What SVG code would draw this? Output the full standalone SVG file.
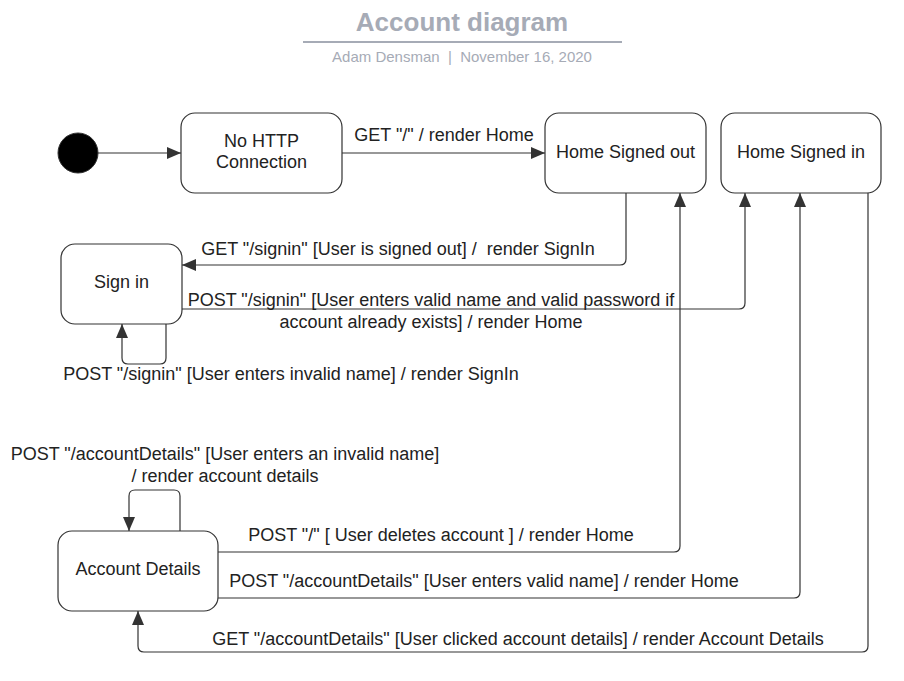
<svg xmlns="http://www.w3.org/2000/svg" width="904" height="681" viewBox="0 0 904 681">
<defs>
<marker id="arr" viewBox="0 0 14 12" refX="14" refY="6" markerWidth="14" markerHeight="12" markerUnits="userSpaceOnUse" orient="auto">
<path d="M0,0 L14,6 L0,12 Z" fill="#333"/>
</marker>
<style>
.node rect{fill:#fff;stroke:#333;stroke-width:1.2}
.t{font-family:"Liberation Sans",Arial,sans-serif;font-size:18px;fill:#222;text-anchor:middle;white-space:pre}
.c path{fill:none;stroke:#333;stroke-width:1.2;marker-end:url(#arr)}
.title{font-family:"Liberation Sans",Arial,sans-serif;font-size:26px;font-weight:bold;fill:#a6abb6;text-anchor:middle}
.sub{font-family:"Liberation Sans",Arial,sans-serif;font-size:15px;fill:#a6abb6;text-anchor:middle;white-space:pre}
</style>
</defs>
<rect width="904" height="681" fill="#fff"/>
<text class="title" x="462" y="31">Account diagram</text>
<line x1="303" y1="42" x2="622" y2="42" stroke="#a6abb6" stroke-width="2"/>
<text class="sub" x="462" y="62" xml:space="preserve">Adam Densman  |  November 16, 2020</text>

<g id="start"><circle cx="78" cy="153" r="20" fill="#000" stroke="#333"/></g>
<g id="noHttp" class="node"><rect x="181" y="113" width="161" height="80" rx="14"/><text class="t" x="261.5" y="147">No HTTP</text><text class="t" x="261.5" y="168">Connection</text></g>
<g id="homeOut" class="node"><rect x="545" y="113" width="161" height="80" rx="14"/><text class="t" x="625.5" y="158">Home Signed out</text></g>
<g id="homeIn" class="node"><rect x="721" y="113" width="160" height="80" rx="14"/><text class="t" x="801" y="158">Home Signed in</text></g>
<g id="signIn" class="node"><rect x="61" y="244" width="121" height="80" rx="14"/><text class="t" x="121.5" y="288">Sign in</text></g>
<g id="accountDetails" class="node"><rect x="58" y="531" width="160" height="80" rx="14"/><text class="t" x="138" y="575">Account Details</text></g>

<g id="connectors" class="c">
<path d="M98,153 H181"/>
<path d="M342,153 H545"/>
<path d="M626,193 V259 Q626,265 620,265 H182"/>
<path d="M182,309 H739 Q745,309 745,303 V193"/>
<path d="M166,324 V358 Q166,364 160,364 H128 Q122,364 122,358 V324"/>
<path d="M180,531 V496 Q180,490 174,490 H135 Q129,490 129,496 V531"/>
<path d="M218,552 H674 Q680,552 680,546 V193"/>
<path d="M218,598 H794 Q800,598 800,592 V193"/>
<path d="M868,193 V646 Q868,652 862,652 H144 Q138,652 138,646 V611"/>
</g>
<g id="labels">
<text class="t" x="444" y="141">GET "/" / render Home</text>
<text class="t" x="398" y="255" xml:space="preserve">GET "/signin" [User is signed out] /  render SignIn</text>
<text class="t" x="431" y="306">POST "/signin" [User enters valid name and valid password if</text>
<text class="t" x="431" y="328">account already exists] / render Home</text>
<text class="t" x="291" y="380">POST "/signin" [User enters invalid name] / render SignIn</text>
<text class="t" x="225" y="460">POST "/accountDetails" [User enters an invalid name]</text>
<text class="t" x="225" y="482">/ render account details</text>
<text class="t" x="441" y="541">POST "/" [ User deletes account ] / render Home</text>
<text class="t" x="484" y="587">POST "/accountDetails" [User enters valid name] / render Home</text>
<text class="t" x="518" y="645">GET "/accountDetails" [User clicked account details] / render Account Details</text>
</g>
</svg>
